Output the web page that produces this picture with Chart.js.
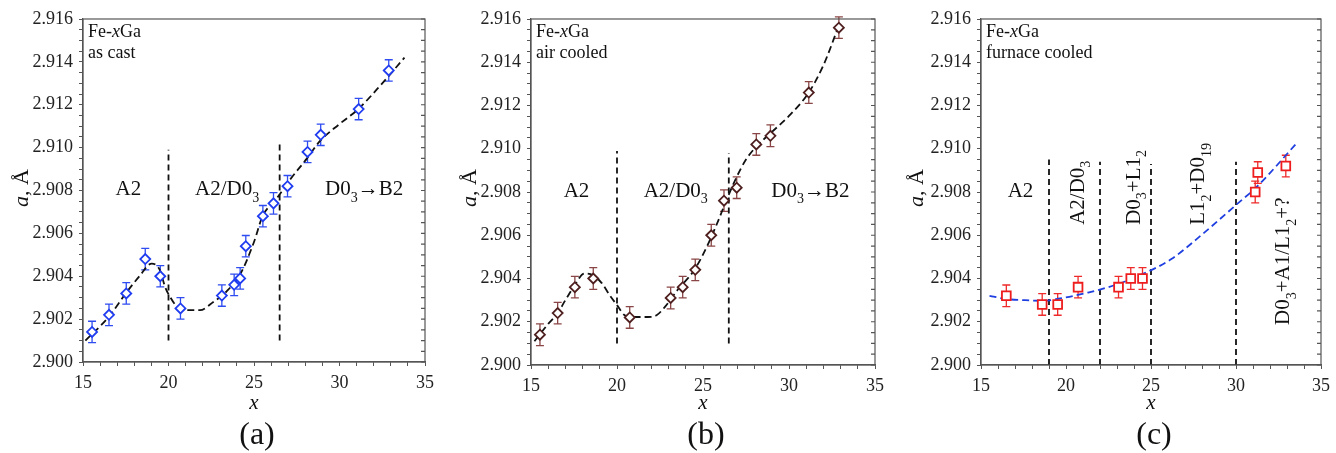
<!DOCTYPE html>
<html>
<head>
<meta charset="utf-8">
<script src="https://cdn.jsdelivr.net/npm/chart.js@4/dist/chart.umd.min.js"></script>
<style>
  body { margin: 0; background: #fff; width: 1336px; height: 453px; overflow: hidden; }
  .panel { position: absolute; top: 0; height: 453px; }
  canvas { display: block; }
</style>
</head>
<body>
<div class="panel" style="left:0;width:445px"><canvas id="chartA" width="445" height="453"></canvas></div>
<div class="panel" style="left:445px;width:445px"><canvas id="chartB" width="445" height="453"></canvas></div>
<div class="panel" style="left:890px;width:446px"><canvas id="chartC" width="446" height="453"></canvas></div>
<script>
// axis ranges
var xRange = [15, 35];
var yRange = [2.900, 2.916];

// (a) as cast
var xA = [15.53, 16.52, 17.53, 18.64, 19.52, 20.70, 23.12, 23.84, 24.19, 24.52, 25.52, 26.14, 26.96, 28.13, 28.90, 31.12, 32.88];
var aA = [2.9014, 2.9022, 2.9032, 2.9048, 2.9040, 2.9025, 2.9031, 2.9036, 2.9039, 2.9054, 2.9068, 2.9074, 2.9082, 2.9098, 2.9106, 2.9118, 2.9136];
var errA = [0.0005, 0.0005, 0.0005, 0.0005, 0.0005, 0.0005, 0.0005, 0.0005, 0.0005, 0.0005, 0.0005, 0.0005, 0.0005, 0.0005, 0.0005, 0.0005, 0.0005];
var fitXA = [15.14, 16.5, 17.5, 18.3, 19.02, 19.5, 19.8, 20.09, 20.48, 21.06, 21.84, 22.62, 23.4, 24.2, 25.0, 25.5, 26.3, 27.1, 28.1, 28.85, 30.0, 31.1, 32.5, 33.8];
var fitA = [2.9010, 2.9021, 2.9032, 2.9040, 2.90459, 2.90428, 2.9035, 2.90304, 2.9026, 2.90242, 2.90242, 2.9028, 2.9033, 2.9041, 2.9056, 2.9068, 2.9076, 2.9085, 2.9095, 2.9103, 2.9111, 2.9118, 2.9130, 2.9142];
var phaseXA = [20, 26.5];
var phaseLowA = [2.901, 2.901];
var phaseTopA = [2.9099, 2.9103];

// (b) air cooled
var xB = [15.52, 16.55, 17.55, 18.62, 20.74, 23.12, 23.82, 24.55, 25.48, 26.22, 26.96, 28.10, 28.92, 31.15, 32.90];
var aB = [2.9014, 2.9024, 2.9036, 2.9040, 2.9022, 2.9031, 2.9036, 2.9044, 2.9060, 2.9076, 2.9082, 2.9102, 2.9106, 2.9126, 2.9156];
var errB = [0.0005, 0.0005, 0.0005, 0.0005, 0.0005, 0.0005, 0.0005, 0.0005, 0.0005, 0.0005, 0.0005, 0.0005, 0.0005, 0.0005, 0.0005];
var fitXB = [15.2, 16.0, 16.55, 17.0, 17.55, 18.1, 18.6, 19.1, 19.6, 20.0, 20.45, 21.0, 21.8, 22.3, 22.8, 23.55, 24.5, 25.3, 25.9, 26.3, 26.9, 27.5, 28.1, 28.9, 30.1, 31.15, 32.0, 32.9];
var fitB = [2.9011, 2.9019, 2.9024, 2.9030, 2.9037, 2.90423, 2.90415, 2.9038, 2.9032, 2.90277, 2.9023, 2.90222, 2.90222, 2.9023, 2.9027, 2.9035, 2.9044, 2.9056, 2.9067, 2.9075, 2.9086, 2.9095, 2.9101, 2.9107, 2.9116, 2.9126, 2.91386, 2.9157];
var phaseXB = [20, 26.5];
var phaseLowB = [2.901, 2.901];
var phaseTopB = [2.9099, 2.9098];

// (c) furnace cooled
var xC = [16.49, 18.60, 19.51, 20.71, 23.09, 23.81, 24.50, 31.13, 31.28, 32.93];
var aC = [2.9032, 2.9028, 2.9028, 2.9036, 2.9036, 2.9040, 2.9040, 2.9080, 2.9089, 2.9092];
var errC = [0.0005, 0.0005, 0.0005, 0.0005, 0.0005, 0.0005, 0.0005, 0.0005, 0.0005, 0.0005];
var fitXC = [15.5, 16.5, 17.5, 18.6, 19.8, 21.3, 22.9, 24.5, 26.2, 28.1, 30.0, 31.3, 33.5];
var fitC = [2.9032, 2.90305, 2.9030, 2.90297, 2.9031, 2.90335, 2.9037, 2.9042, 2.9049, 2.9061, 2.9074, 2.9083, 2.9102];
var phaseXC = [19, 22, 25, 30];
var phaseLowC = [2.900, 2.900, 2.900, 2.900];
var phaseTopC = [2.9095, 2.9094, 2.9093, 2.9094];

var serif = '"Liberation Serif", "Times New Roman", serif';

function pairs(xs, ys) {
  return xs.map(function(x, i) { return {x: x, y: ys[i]}; });
}

// draw text made of pieces: '' normal, 'i' italic, 's' subscript
function drawRich(ctx, parts, x, y, size, align) {
  function fontFor(k) {
    return (k === 'i' ? 'italic ' : '') + (k === 's' ? Math.round(size * 0.66) : size) + 'px ' + serif;
  }
  var total = 0;
  parts.forEach(function(p) { ctx.font = fontFor(p[1]); total += ctx.measureText(p[0]).width; });
  var cx = x;
  if (align === 'center') cx = x - total / 2;
  if (align === 'right') cx = x - total;
  ctx.textAlign = 'left';
  parts.forEach(function(p) {
    ctx.font = fontFor(p[1]);
    ctx.fillText(p[0], cx, p[1] === 's' ? y + size * 0.3 : y);
    cx += ctx.measureText(p[0]).width;
  });
}

var errorBars = {
  id: 'errorBars',
  beforeDatasetsDraw: function(chart, args, opts) {
    var sx = chart.scales.x, sy = chart.scales.y, ctx = chart.ctx;
    ctx.save();
    ctx.strokeStyle = opts.color;
    ctx.lineWidth = 1.3;
    opts.x.forEach(function(x, i) {
      var px = sx.getPixelForValue(x);
      var top = sy.getPixelForValue(opts.y[i] + opts.err[i]);
      var bot = sy.getPixelForValue(opts.y[i] - opts.err[i]);
      ctx.beginPath();
      ctx.moveTo(px, top); ctx.lineTo(px, bot);
      ctx.moveTo(px - 4, top); ctx.lineTo(px + 4, top);
      ctx.moveTo(px - 4, bot); ctx.lineTo(px + 4, bot);
      ctx.stroke();
    });
    ctx.restore();
  }
};

var frame = {
  id: 'frame',
  afterDraw: function(chart) {
    var a = chart.chartArea, ctx = chart.ctx, sy = chart.scales.y;
    ctx.save();
    ctx.strokeStyle = '#555';
    ctx.lineWidth = 1.2;
    ctx.strokeRect(a.left, a.top, a.right - a.left, a.bottom - a.top);
    ctx.beginPath();
    sy.ticks.forEach(function(t) {
      var py = sy.getPixelForValue(t.value);
      ctx.moveTo(a.right, py);
      ctx.lineTo(a.right - 4, py);
    });
    ctx.stroke();
    ctx.restore();
  }
};

var panelText = {
  id: 'panelText',
  afterDraw: function(chart, args, opts) {
    var ctx = chart.ctx, a = chart.chartArea, sx = chart.scales.x, sy = chart.scales.y;
    ctx.save();
    ctx.fillStyle = '#111';
    ctx.textBaseline = 'alphabetic';
    // sample header
    drawRich(ctx, [['Fe-', ''], ['x', 'i'], ['Ga', '']], a.left + 5, a.top + 18, 18, 'left');
    drawRich(ctx, [[opts.state, '']], a.left + 5, a.top + 39, 18, 'left');
    // phase labels
    opts.labels.forEach(function(l) {
      var px = sx.getPixelForValue(l.x), py = sy.getPixelForValue(l.y);
      if (l.rot) {
        ctx.save();
        ctx.translate(px, py);
        ctx.rotate(-Math.PI / 2);
        drawRich(ctx, l.parts, 0, 0, 21, 'left');
        ctx.restore();
      } else {
        drawRich(ctx, l.parts, px, py, 21, 'left');
      }
    });
    // axis titles
    ctx.textBaseline = 'middle';
    ctx.save();
    ctx.translate(opts.yTitleX, 188);
    ctx.rotate(-Math.PI / 2);
    drawRich(ctx, [['a', 'i'], [', \u00C5', '']], 0, 0, 22, 'center');
    ctx.restore();
    var mid = (a.left + a.right) / 2;
    drawRich(ctx, [['x', 'i']], mid, 403, 21, 'center');
    drawRich(ctx, [[opts.letter, '']], mid + 3, 436, 32, 'center');
    ctx.restore();
  }
};

function makePanel(id, box, pts, fit, phase, style, textOpts) {
  var W = box.w;
  var datasets = [
    {
      data: pairs(pts.x, pts.y),
      pointStyle: style.marker,
      pointRadius: style.radius,
      pointBorderWidth: 1.8,
      pointBorderColor: style.color,
      pointBackgroundColor: '#fff',
      showLine: false
    },
    {
      data: pairs(fit.x, fit.y),
      showLine: true,
      pointRadius: 0,
      borderColor: style.fitColor,
      borderWidth: 1.8,
      borderDash: [7, 4],
      cubicInterpolationMode: 'monotone',
      fill: false
    }
  ];
  phase.x.forEach(function(x, i) {
    datasets.push({
      data: [{x: x, y: phase.lo[i]}, {x: x, y: phase.hi[i]}],
      showLine: true,
      pointRadius: 0,
      borderColor: '#111',
      borderWidth: 1.8,
      borderDash: [6, 4]
    });
  });
  return new Chart(document.getElementById(id).getContext('2d'), {
    type: 'scatter',
    data: {datasets: datasets},
    options: {
      responsive: false,
      animation: false,
      layout: {padding: {top: box.top, right: W - box.right, left: 0, bottom: 0}},
      plugins: {
        legend: {display: false},
        tooltip: {enabled: false},
        errorBars: {x: pts.x, y: pts.y, err: pts.err, color: style.errColor},
        panelText: textOpts
      },
      scales: {
        x: {
          type: 'linear', min: xRange[0], max: xRange[1],
          afterFit: function(s) { s.height = 453 - box.bottom; },
          grid: {drawOnChartArea: false, tickLength: 4, color: '#555'},
          border: {color: '#555', width: 1.2},
          ticks: {
            stepSize: 1, autoSkip: false, maxRotation: 0, padding: 6, color: '#222',
            font: {family: serif, size: 18},
            callback: function(v) { return v % 5 === 0 ? String(v) : ''; }
          }
        },
        y: {
          type: 'linear', min: yRange[0], max: yRange[1],
          afterFit: function(s) { s.width = box.left; },
          grid: {drawOnChartArea: false, tickLength: 4, color: '#555'},
          border: {color: '#555', width: 1.2},
          ticks: {
            stepSize: 0.0005, autoSkip: false, padding: 6, color: '#222',
            font: {family: serif, size: 18},
            callback: function(v) {
              var k = Math.round(v * 10000);
              return k % 20 === 0 ? (k / 10000).toFixed(3) : '';
            }
          }
        }
      }
    },
    plugins: [errorBars, frame, panelText]
  });
}

var arrowParts = [['D0', ''], ['3', 's'], ['\u2192B2', '']];
var a2d03Parts = [['A2/D0', ''], ['3', 's']];

makePanel('chartA', {w: 445, left: 83, right: 425, top: 19, bottom: 362},
  {x: xA, y: aA, err: errA}, {x: fitXA, y: fitA},
  {x: phaseXA, lo: phaseLowA, hi: phaseTopA},
  {marker: 'rectRot', radius: 5, color: '#1f3cf0', errColor: '#2f4cf0', fitColor: '#111'},
  {state: 'as cast', letter: '(a)', yTitleX: 22, labels: [
    {x: 16.9, y: 2.90777, parts: [['A2', '']]},
    {x: 21.55, y: 2.90777, parts: a2d03Parts},
    {x: 29.15, y: 2.90777, parts: arrowParts}
  ]});

makePanel('chartB', {w: 445, left: 86, right: 431, top: 19, bottom: 365},
  {x: xB, y: aB, err: errB}, {x: fitXB, y: fitB},
  {x: phaseXB, lo: phaseLowB, hi: phaseTopB},
  {marker: 'rectRot', radius: 5, color: '#4f1f1f', errColor: '#8a4646', fitColor: '#111'},
  {state: 'air cooled', letter: '(b)', yTitleX: 25, labels: [
    {x: 16.9, y: 2.90777, parts: [['A2', '']]},
    {x: 21.55, y: 2.90777, parts: a2d03Parts},
    {x: 28.97, y: 2.90777, parts: arrowParts}
  ]});

makePanel('chartC', {w: 446, left: 91, right: 435, top: 19, bottom: 365},
  {x: xC, y: aC, err: errC}, {x: fitXC, y: fitC},
  {x: phaseXC, lo: phaseLowC, hi: phaseTopC},
  {marker: 'rect', radius: 6.2, color: '#ee1c1c', errColor: '#ee2a2a', fitColor: '#1f3fe0'},
  {state: 'furnace cooled', letter: '(c)', yTitleX: 27, labels: [
    {x: 16.57, y: 2.90777, parts: [['A2', '']]},
    {x: 21.05, y: 2.90648, rot: true, parts: a2d03Parts},
    {x: 24.36, y: 2.90648, rot: true, parts: [['D0', ''], ['3', 's'], ['+L1', ''], ['2', 's']]},
    {x: 28.14, y: 2.90648, rot: true, parts: [['L1', ''], ['2', 's'], ['+D0', ''], ['19', 's']]},
    {x: 33.14, y: 2.90185, rot: true, parts: [['D0', ''], ['3', 's'], ['+A1/L1', ''], ['2', 's'], ['+?', '']]}
  ]});
</script>
</body>
</html>
